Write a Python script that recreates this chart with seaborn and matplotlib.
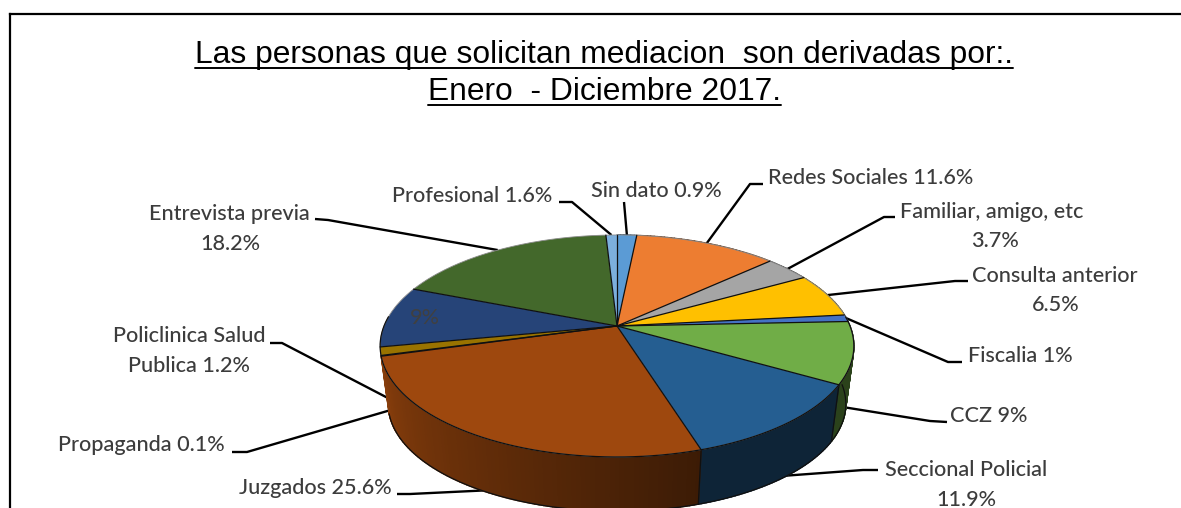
import numpy as np
import seaborn as sns
import matplotlib
matplotlib.use("Agg")
import matplotlib.pyplot as plt
from matplotlib.colors import to_rgb
from matplotlib.transforms import Transform

# slices, clockwise from 12 o'clock
categories = ["Sin dato", "Redes Sociales", "Familiar, amigo, etc", "Consulta anterior",
              "Fiscalia", "CCZ", "Seccional Policial", "Juzgados", "Propaganda",
              "Policlinica Salud Publica", "", "Entrevista previa", "Profesional"]
# slice sizes as drawn in the picture (the two small top slices do not follow their printed labels)
shares = [1.6, 11.6, 3.7, 6.5, 1, 9, 11.9, 25.6, 0.1, 1.2, 9, 18.2, 0.9]
colors = ["#5B9BD5", "#ED7D31", "#A5A5A5", "#FFC000", "#4472C4", "#70AD47", "#255E91",
          "#9E480E", "#636363", "#997300", "#264478", "#43682B", "#7CAFDD"]
title_lines = ["Las personas que solicitan mediacion  son derivadas por:.",
               "Enero  - Diciembre 2017."]

# label layout in pixels: text lines (x, y, ha), leader tail start and elbow, wall drop
layout = {
    "Sin dato": ([("Sin dato 0.9%", 591, 191, "left")], (624, 202), (624, 202), 0),
    "Redes Sociales": ([("Redes Sociales 11.6%", 768, 178, "left")], (763, 184), (750, 184), 0),
    "Familiar, amigo, etc": ([("Familiar, amigo, etc", 900, 212, "left"), ("3.7%", 995, 241, "center")],
                             (895, 217), (884, 217), 0),
    "Consulta anterior": ([("Consulta anterior", 972, 276, "left"), ("6.5%", 1056, 305, "center")],
                          (968, 281), (955, 281), 0),
    "Fiscalia": ([("Fiscalia 1%", 968, 356, "left")], (962, 362), (948, 362), 0),
    "CCZ": ([("CCZ 9%", 950, 416, "left")], (947, 422), (930, 421), 0.95),
    "Seccional Policial": ([("Seccional Policial", 885, 470, "left"), ("11.9%", 966, 500, "center")],
                           (878, 470), (863, 470), 0.95),
    "Juzgados": ([("Juzgados 25.6%", 239, 488, "left")], (397, 494), (410, 494), 0.95),
    "Propaganda": ([("Propaganda 0.1%", 58, 445, "left")], (232, 452), (247, 452), 0.95),
    "Policlinica Salud Publica": ([("Policlinica Salud", 113, 336, "left"), ("Publica 1.2%", 128, 366, "left")],
                                  (270, 343), (282, 343), 0.8),
    "Entrevista previa": ([("Entrevista previa", 149, 214, "left"), ("18.2%", 230, 244, "center")],
                          (315, 219), (328, 220), 0),
    "Profesional": ([("Profesional 1.6%", 392, 196, "left")], (559, 202), (572, 202), 0),
}

CX, CY = 617.0, 326.0
SX, SY, K = 233.0, 107.4, 0.18
DEPTH, SHRINK = 58.0, 0.966
INK = "#101010"


def tilt(x, y):
    # unit pie circle to picture pixels, apex at CX, CY
    w = 1 + K * y
    return CX + SX * x / w, CY - SY * y / w


class Tilt(Transform):
    input_dims = 2
    output_dims = 2
    has_inverse = False

    def transform_non_affine(self, values):
        px, py = tilt(values[:, 0], values[:, 1])
        return np.column_stack([px, py])


def rim(theta, drop=0.0):
    # point on the rim, theta in degrees clockwise from the top
    t = np.radians(theta)
    px, py = tilt(np.sin(t), np.cos(t))
    scale = 1 - (1 - SHRINK) * drop
    return CX + (px - CX) * scale, CY + 20 + (py - CY - 20) * scale + DEPTH * drop


sns.set_theme(style="white")
plt.rcParams["font.family"] = ["Lato", "DejaVu Sans"]

fig = plt.figure(figsize=(11.81, 5.08), dpi=100)
ax = fig.add_axes([10 / 1181, 0, 1171 / 1181, 494 / 508])

wedges, _ = ax.pie(shares, colors=sns.color_palette(colors), startangle=90, counterclock=False,
                   wedgeprops={"edgecolor": "none"})
for wedge in wedges:
    wedge.set_transform(Tilt() + ax.transData)
    wedge.set_zorder(5)

ax.set_aspect("auto")
ax.set_xlim(10, 1181)
ax.set_ylim(508, 14)
ax.set_frame_on(True)
sns.despine(ax=ax, top=False, left=False, right=True, bottom=True)
for side in ["left", "top"]:
    ax.spines[side].set_color("black")
    ax.spines[side].set_linewidth(1.6)

edges = np.concatenate([[0], np.cumsum(shares)]) / np.sum(shares) * 360
wall_end = edges[categories.index("Juzgados") + 1]

# side wall, shaded along the angle
for start, end, color in zip(edges[:-1], edges[1:], colors):
    if start >= wall_end:
        continue
    steps = np.append(np.arange(start, end, 1.0), end)
    for a, b in zip(steps[:-1], steps[1:]):
        x0, y0 = rim(a)
        x1, y1 = rim(b)
        x2, y2 = rim(b, 1)
        x3, y3 = rim(a, 1)
        shade = np.interp((a + b) / 2, [163, 255], [0.38, 0.86])
        tone = tuple(c * shade for c in to_rgb(color))
        ax.fill([x0, x1, x2, x3], [y0, y1, y2, y3], color=tone, lw=1.0, zorder=2)

wall = np.linspace(90, wall_end, 200)
ax.plot(*rim(wall, 1), color=INK, lw=0.9, zorder=3)
for edge in edges[1:-1]:
    if 95 < edge < wall_end - 1:
        bx, by = rim(edge)
        tx, ty = rim(edge, 1)
        ax.plot([bx, tx], [by, ty], color=INK, lw=0.9, zorder=3)

# edges on the top face: dark radial lines and front rim, faint back rim
circle = np.linspace(0, 360, 361)
ax.plot(*rim(circle), color="#8c8c8c", lw=0.6, zorder=6)
ax.plot(*rim(np.linspace(85, 275, 200)), color=INK, lw=0.9, zorder=6)
for edge in edges[:-1]:
    ex, ey = rim(edge)
    ax.plot([CX, ex], [CY, ey], color=INK, lw=0.9, zorder=6)

# labels and leaders
for name, start, end in zip(categories, edges[:-1], edges[1:]):
    if name not in layout:
        continue
    lines, tail, elbow, drop = layout[name]
    for text, x, y, ha in lines:
        ax.text(x, y, text, ha=ha, va="center", fontsize=15.6, color="#3c3c3c", fontweight="medium")
    ex, ey = rim((start + end) / 2, drop)
    ax.plot([tail[0], elbow[0], ex], [tail[1], elbow[1], ey], color="black", lw=1.7,
            solid_capstyle="butt", zorder=1)

ax.text(425, 318, "9%", ha="center", va="center", fontsize=15.6, color="#404040", zorder=7)

# title, underlined by hand
fig.canvas.draw()
for line, y, rule in zip(title_lines, [55, 92], [68, 105]):
    label = ax.text(604, y, line, ha="center", va="center", fontsize=22.9,
                    family="Liberation Sans", color="black")
    box = label.get_window_extent(fig.canvas.get_renderer())
    ax.plot([box.x0, box.x1], [rule, rule], color="black", lw=1.4)

fig.savefig("out.png", dpi=100)
